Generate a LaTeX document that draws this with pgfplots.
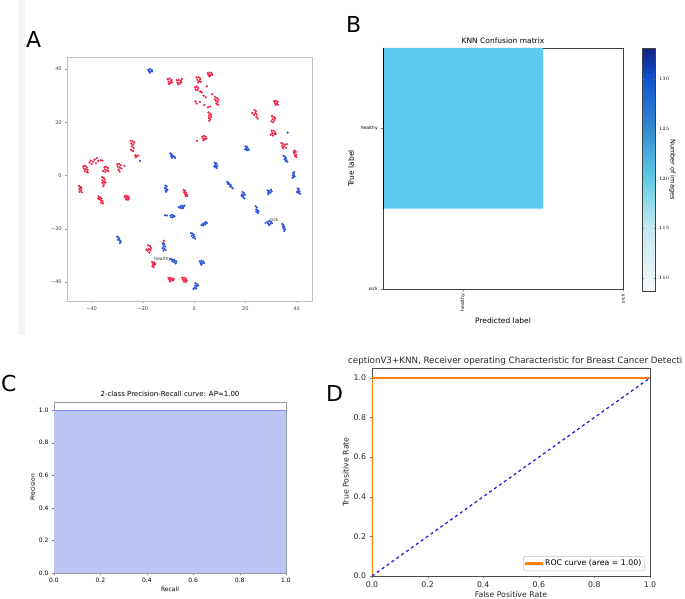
\documentclass[border=0pt]{standalone}
\usepackage{fontspec}
\setmainfont{DejaVu Sans}
\usepackage{pgfplots}
\pgfplotsset{compat=1.18}
\definecolor{ptred}{HTML}{EE2244}
\definecolor{ptblue}{HTML}{2E55D8}
\definecolor{cellblue}{HTML}{5DCBF0}
\definecolor{prfill}{HTML}{BCC5F3}
\definecolor{rocorange}{HTML}{FF7F0E}
\definecolor{rocnavy}{HTML}{2222DD}
\newcommand{\fs}[1]{\fontsize{#1}{#1}\selectfont}

\pgfplotsset{
  panel/.style={scale only axis, anchor=south west,
    /pgf/number format/assume math mode=true,
    tick align=outside, major tick length=2.5pt,
    xtick pos=bottom, ytick pos=left},
}

\begin{document}
\begin{tikzpicture}[x=1pt,y=1pt]
\useasboundingbox (0,0) rectangle (685,599);
\fill[black!4] (18,264) rectangle (25,599);

% ---------------- A: t-SNE scatter ----------------
\begin{axis}[panel, at={(67pt,298pt)}, width=245pt, height=244pt,
  xmin=-49.6, xmax=46, ymin=-47.1, ymax=44.5,
  xtick={-40,-20,0,20,40}, ytick={-40,-20,0,20,40},
  xticklabels={−40,−20,0,20,40}, yticklabels={−40,−20,0,20,40},
  ticklabel style={font=\fs{5}, text=black!75},
  axis line style={draw=gray!50}, tick style={draw=gray!70},
  major tick length=1.8pt]
\addplot[only marks, mark=*, mark size=0.9pt, color=ptred, mark options={draw=none}] coordinates {
 (-10.3,36.2) (-9.6,36.4) (-8.8,35.9) (-10.0,35.2) (-9.2,34.8) (-8.6,35.0) (-9.8,34.4) (-9.0,35.6)
 (-6.8,35.8) (-6.0,35.9) (-5.2,35.5) (-6.5,34.9) (-5.6,34.6) (-5.0,35.0) (-6.2,34.2) (-4.8,36.3)
 (1.0,36.8) (1.8,36.9) (2.4,36.3) (1.3,35.9) (2.0,35.5) (1.6,35.0) (2.6,35.2)
 (5.3,38.4) (6.0,38.7) (6.8,38.5) (5.6,37.8) (6.4,37.6) (7.1,37.9) (6.0,37.2)
 (0.3,33.2) (1.0,33.4) (1.6,32.9) (0.6,32.3) (1.3,32.0) (2.4,31.6) (3.0,31.2) (3.7,30.0) (5.0,33.5)
 (4.5,29.4) (0.5,27.8) (1.0,27.0) (2.3,27.6) (4.0,26.5) (5.4,25.6) (6.3,25.9) (7.1,30.5)
 (8.3,29.5) (9.0,29.0) (9.5,28.4) (8.5,28.0) (9.2,27.6) (8.7,27.0) (9.4,26.6) (8.1,28.6)
 (5.6,23.7) (6.2,23.2) (5.8,22.5) (6.5,22.0) (5.7,21.6) (6.3,21.2) (5.9,20.6) (6.6,22.8)
 (3.2,14.6) (3.9,14.9) (4.5,14.5) (3.5,13.9) (4.2,13.6) (3.7,13.2) (4.8,13.9) (1.2,13.0)
 (23.6,24.6) (24.2,24.1) (23.9,23.4) (24.5,22.9) (23.4,22.8) (24.3,22.0) (24.8,21.4) (22.7,23.5)
 (31.2,27.9) (31.9,28.0) (32.6,27.7) (31.5,27.2) (32.3,27.0) (31.8,26.5) (32.7,26.6)
 (30.4,22.3) (31.1,22.0) (31.6,21.5) (30.6,21.2) (31.3,20.8) (30.2,20.4) (30.9,20.0)
 (30.2,16.8) (30.9,16.9) (31.6,16.4) (30.5,16.0) (31.3,15.7) (29.9,15.3) (30.7,15.0) (31.8,15.6)
 (34.0,12.2) (34.7,11.9) (35.5,11.6) (34.3,11.2) (35.1,10.9) (35.8,10.4) (34.6,10.3) (36.2,11.8)
 (39.2,9.4) (39.7,8.9) (39.1,8.3) (39.8,7.8) (39.3,7.3) (39.9,6.9) (38.9,8.8)
 (-24.8,13.0) (-24.0,12.9) (-23.4,12.4) (-24.5,12.0) (-23.8,11.6) (-24.2,10.9) (-23.6,10.3)
 (-24.6,9.6) (-23.9,9.2) (-23.0,7.6) (-22.4,7.3) (-21.8,7.5) (-22.8,6.9)
 (-43.3,3.4) (-42.6,3.6) (-41.9,3.1) (-43.0,2.6) (-42.3,2.4) (-41.6,2.2) (-42.7,1.7) (-41.9,1.3)
 (-40.8,4.9) (-40.3,5.6) (-39.4,5.2) (-38.8,6.0) (-38.0,6.6) (-37.4,5.5) (-36.4,5.7) (-35.8,5.6)
 (-39.9,4.3) (-41.5,1.2) (-38.3,4.6)
 (-35.0,3.1) (-34.3,3.3) (-33.6,2.8) (-34.8,2.3) (-34.0,2.0) (-33.4,1.6) (-34.6,1.4) (-35.5,1.7)
 (-30.0,4.2) (-29.3,4.4) (-28.6,3.9) (-29.8,3.3) (-29.0,3.0) (-28.4,2.6) (-29.5,2.2) (-29.1,1.5) (-27.2,3.6)
 (-35.9,-0.6) (-35.3,-0.9) (-34.8,-1.5) (-35.7,-1.8) (-35.1,-2.3) (-35.8,-2.7) (-35.2,-3.3) (-34.6,-2.6) (-35.4,-4.0)
 (-44.9,-3.9) (-44.4,-4.3) (-44.0,-4.9) (-44.8,-5.1) (-44.2,-5.6) (-44.7,-6.1) (-43.8,-6.3) (-44.1,-4.5)
 (-37.3,-7.9) (-36.7,-8.2) (-36.1,-8.6) (-37.0,-8.9) (-36.4,-9.3) (-35.8,-9.6) (-36.3,-10.2) (-35.6,-10.4) (-37.4,-8.6)
 (-27.1,-7.7) (-26.4,-7.6) (-25.7,-7.9) (-26.9,-8.3) (-26.1,-8.4) (-25.4,-8.6) (-26.5,-9.0) (-25.8,-9.1)
 (-4.1,-5.4) (-3.6,-5.7) (-3.9,-6.3) (-3.2,-6.4) (-3.6,-7.0) (-2.9,-7.1) (-3.3,-7.7) (-2.7,-7.6)
 (-17.9,-26.2) (-17.2,-26.5) (-16.8,-27.2) (-17.6,-27.6) (-18.2,-28.2) (-17.0,-28.0) (-17.5,-28.9) (-18.6,-27.8)
 (-16.4,-32.4) (-15.7,-32.6) (-16.1,-33.2) (-15.5,-33.5) (-16.3,-34.0) (-15.8,-34.4) (-15.2,-33.1)
 (-10.0,-38.5) (-9.3,-38.4) (-8.6,-38.7) (-9.7,-39.1) (-9.0,-39.2) (-8.3,-39.4) (-9.4,-39.8) (-7.9,-38.8)
 (-4.6,-38.4) (-3.9,-38.3) (-3.2,-38.7) (-4.3,-39.1) (-3.6,-39.2) (-2.9,-39.4) (-4.0,-39.8) (-3.3,-40.0)
 (-11.8,-24.5) (-12.0,-25.3)
};
\addplot[only marks, mark=*, mark size=0.9pt, color=ptblue, mark options={draw=none}] coordinates {
 (-17.9,39.7) (-17.2,40.0) (-16.5,39.6) (-17.6,39.2) (-16.9,39.0) (-17.3,38.6) (-16.4,39.1)
 (-9.3,8.3) (-8.8,8.0) (-8.4,7.5) (-9.0,7.2) (-8.2,7.0) (-7.7,7.1) (-8.6,6.7) (-7.5,6.6)
 (8.1,4.8) (8.7,4.5) (8.3,3.9) (9.0,3.7) (8.5,3.2) (7.9,3.4) (8.8,2.8)
 (20.1,10.9) (20.7,10.8) (20.3,10.1) (21.0,10.0) (20.6,9.5) (19.9,9.8) (21.3,9.6)
 (12.9,-2.4) (13.4,-2.7) (13.8,-3.3) (14.3,-3.6) (14.0,-4.1) (14.7,-4.4) (15.1,-4.8) (13.2,-3.1)
 (18.9,-6.2) (19.4,-6.5) (18.7,-7.1) (19.3,-7.5) (19.8,-7.2) (19.0,-8.1) (19.6,-8.6) (18.5,-7.6)
 (24.0,-11.5) (24.5,-12.0) (24.2,-12.7) (24.8,-13.1) (24.3,-13.6) (24.9,-14.1) (25.1,-13.4)
 (28.7,-5.6) (29.4,-5.8) (30.0,-5.4) (29.0,-6.3) (29.7,-6.5) (28.9,-7.0) (30.3,-6.0)
 (28.6,-17.4) (29.3,-17.1) (30.0,-17.5) (28.9,-18.0) (29.7,-18.2) (30.4,-17.9) (29.2,-18.6) (27.9,-17.8)
 (34.4,-18.2) (34.9,-18.6) (34.6,-19.1) (35.2,-19.4) (34.9,-19.9) (35.5,-20.2) (35.2,-20.8)
 (34.9,7.4) (35.4,7.1) (35.8,6.6) (35.3,6.1) (36.0,5.8) (36.4,5.2) (35.7,5.4) (36.5,16.1)
 (39.1,1.3) (38.7,0.9) (39.0,0.4) (38.5,0.0) (38.9,-0.5) (38.4,-0.9) (39.2,-0.3)
 (40.4,-4.8) (40.9,-5.1) (40.5,-5.7) (41.1,-6.0) (40.7,-6.5) (41.3,-6.8) (40.2,-6.2)
 (-11.2,-3.8) (-10.7,-4.1) (-11.4,-4.7) (-10.8,-5.0) (-11.1,-5.6) (-10.4,-5.4) (-10.9,-6.1)
 (-6.0,-11.9) (-5.3,-11.5) (-4.7,-11.4) (-4.1,-11.6) (-5.6,-12.1) (-4.9,-12.3) (-4.3,-12.2) (-3.8,-11.3)
 (-11.3,-14.9) (-10.6,-15.0) (-9.2,-15.0) (-8.6,-14.8) (-8.0,-15.1) (-9.0,-15.6) (-8.4,-15.7) (-7.7,-15.3)
 (2.9,-18.6) (3.4,-18.2) (4.0,-17.8) (4.6,-17.5) (3.6,-18.7) (4.3,-18.3) (5.0,-17.9)
 (-1.3,-21.6) (-0.7,-21.8) (-0.2,-22.2) (-0.9,-22.6) (0.1,-22.9) (-0.4,-23.3) (0.4,-23.7)
 (-30.0,-22.9) (-29.6,-23.3) (-29.2,-23.8) (-29.7,-24.1) (-29.0,-24.4) (-28.6,-24.8) (-28.9,-25.3)
 (-12.2,-25.6) (-11.6,-25.8) (-11.9,-26.5) (-11.3,-26.7) (-12.3,-27.2) (-11.7,-27.5) (-11.1,-27.9) (-12.0,-28.2)
 (-9.3,-31.3) (-8.7,-31.5) (-8.1,-31.6) (-7.6,-31.9) (-8.5,-32.2) (-7.8,-32.5) (-7.2,-33.0) (-6.9,-32.3)
 (2.2,-32.2) (2.9,-32.0) (3.6,-32.3) (2.5,-32.8) (3.2,-33.0) (3.9,-32.9) (2.8,-33.5)
 (0.5,-40.4) (1.1,-40.8) (0.4,-41.3) (1.0,-41.6) (0.2,-42.1) (0.8,-42.4) (1.5,-41.2) (-0.2,-42.6)
 (-21.1,5.5)
};
\node[anchor=west, inner sep=0pt, font=\fs{4.5}, text=black!80] at (axis cs:-15.6,-31.4) {healthy};
\node[anchor=west, inner sep=0pt, font=\fs{4.5}, text=black!80] at (axis cs:29.4,-16.6) {sick};
\end{axis}

% ---------------- B: confusion matrix ----------------
\begin{axis}[panel, at={(383pt,310pt)}, width=240pt, height=241pt,
  xmin=-0.5, xmax=1, ymin=-0.5, ymax=1, y dir=reverse,
  xtick={0,1}, xticklabels={healthy,sick}, ytick={0,1}, yticklabels={healthy,sick},
  ticklabel style={font=\fs{4.5}},
  xticklabel style={rotate=90, anchor=east},
  major tick length=1.8pt,
  axis line style={draw=black!75},
  title={KNN Confusion matrix}, title style={font=\fs{7.5}, yshift=-5pt},
  xlabel={Predicted label}, ylabel={True label},
  label style={font=\fs{7.5}},
  colorbar,
  colormap={knn}{rgb255(0cm)=(246,248,250); rgb255(6.3cm)=(196,232,240);
    rgb255(11.3cm)=(96,204,232); rgb255(16.3cm)=(50,140,210);
    rgb255(21.3cm)=(18,82,208); rgb255(24.4cm)=(18,34,130)},
  point meta min=108.7, point meta max=133.1,
  colorbar style={at={(parent axis.north east)}, anchor=north west, xshift=11pt,
    scale only axis, width=13pt, height=243pt,
    ytick={110,115,120,125,130}, yticklabel pos=right,
    yticklabel style={font=\fs{4.5}},
    ylabel={Number of images}, ylabel near ticks,
    ylabel style={font=\fs{6.5}, rotate=180, yshift=-7pt},
    axis line style={draw=black!75}, major tick length=1.8pt}]
\addplot[fill=cellblue, draw=none] coordinates {(-0.5,-0.5) (0.5,-0.5) (0.5,0.5) (-0.5,0.5) (-0.5,-0.5)};
\addplot[color=black!80!blue, line width=0.9pt] coordinates {(-0.5,-0.5) (-0.5,0.5)};
\end{axis}

% ---------------- C: precision-recall ----------------
\begin{axis}[panel, at={(54pt,26pt)}, width=232pt, height=171pt,
  xmin=0, xmax=1, ymin=0, ymax=1.05,
  xtick={0,0.2,0.4,0.6,0.8,1}, ytick={0,0.2,0.4,0.6,0.8,1},
  /pgf/number format/.cd, fixed, fixed zerofill, precision=1, /pgfplots/.cd,
  ticklabel style={font=\fs{6}},
  axis line style={draw=gray!80}, major tick length=2pt,
  title={2-class Precision-Recall curve: AP=1.00}, title style={font=\fs{7}, yshift=-4pt},
  xlabel={Recall}, ylabel={Precision}, label style={font=\fs{6}},
  xlabel style={yshift=3pt}, ylabel style={yshift=-3pt}]
\addplot[fill=prfill, draw=none] coordinates {(0,0) (0,1) (1,1) (1,0) (0,0)};
\addplot[color=prfill!70!blue, line width=0.8pt] coordinates {(0,1) (1,1) (1,0.84)};
\end{axis}

% ---------------- D: ROC ----------------
\begin{axis}[panel, at={(372pt,23pt)}, width=278pt, height=208pt,
  xmin=0, xmax=1, ymin=0, ymax=1.05,
  xtick={0,0.2,0.4,0.6,0.8,1}, ytick={0,0.2,0.4,0.6,0.8,1},
  /pgf/number format/.cd, fixed, fixed zerofill, precision=1, /pgfplots/.cd,
  ticklabel style={font=\fs{7.8}, text=black!85},
  axis line style={draw=black!70}, major tick length=2.5pt,
  xlabel={False Positive Rate}, ylabel={True Positive Rate},
  label style={font=\fs{7.8}, text=black!85},
  xlabel style={yshift=3pt}, ylabel style={yshift=-2pt},
  legend style={at={(0.982,0.024)}, anchor=south east, font=\fs{7.8},
    draw=black!25, rounded corners=1.5pt, inner sep=1.5pt},
  legend cell align=left]
\addplot[draw=rocorange, line width=1.3pt,
  legend image code/.code={\fill[rocorange] (0pt,-0.9pt) rectangle (17pt,0.9pt);}]
  coordinates {(0,0) (0,1) (1,1)};
\addlegendentry{ROC curve (area = 1.00)}
\addplot[draw=rocnavy, dashed, line width=1.3pt, forget plot] coordinates {(0,0) (1,1)};
\end{axis}
\node[anchor=west, inner sep=0pt, font=\fs{8.7}, text=black!85] at (348,238) {ceptionV3+KNN, Receiver operating Characteristic for Breast Cancer Detecti};

% panel letters
\node[anchor=base west, inner sep=0pt, font=\fs{22}] at (26,551) {A};
\node[anchor=base west, inner sep=0pt, font=\fs{22}] at (346,566) {B};
\node[anchor=base west, inner sep=0pt, font=\fs{22}] at (1,207) {C};
\node[anchor=base west, inner sep=0pt, font=\fs{22}] at (326,197) {D};
\end{tikzpicture}
\end{document}
